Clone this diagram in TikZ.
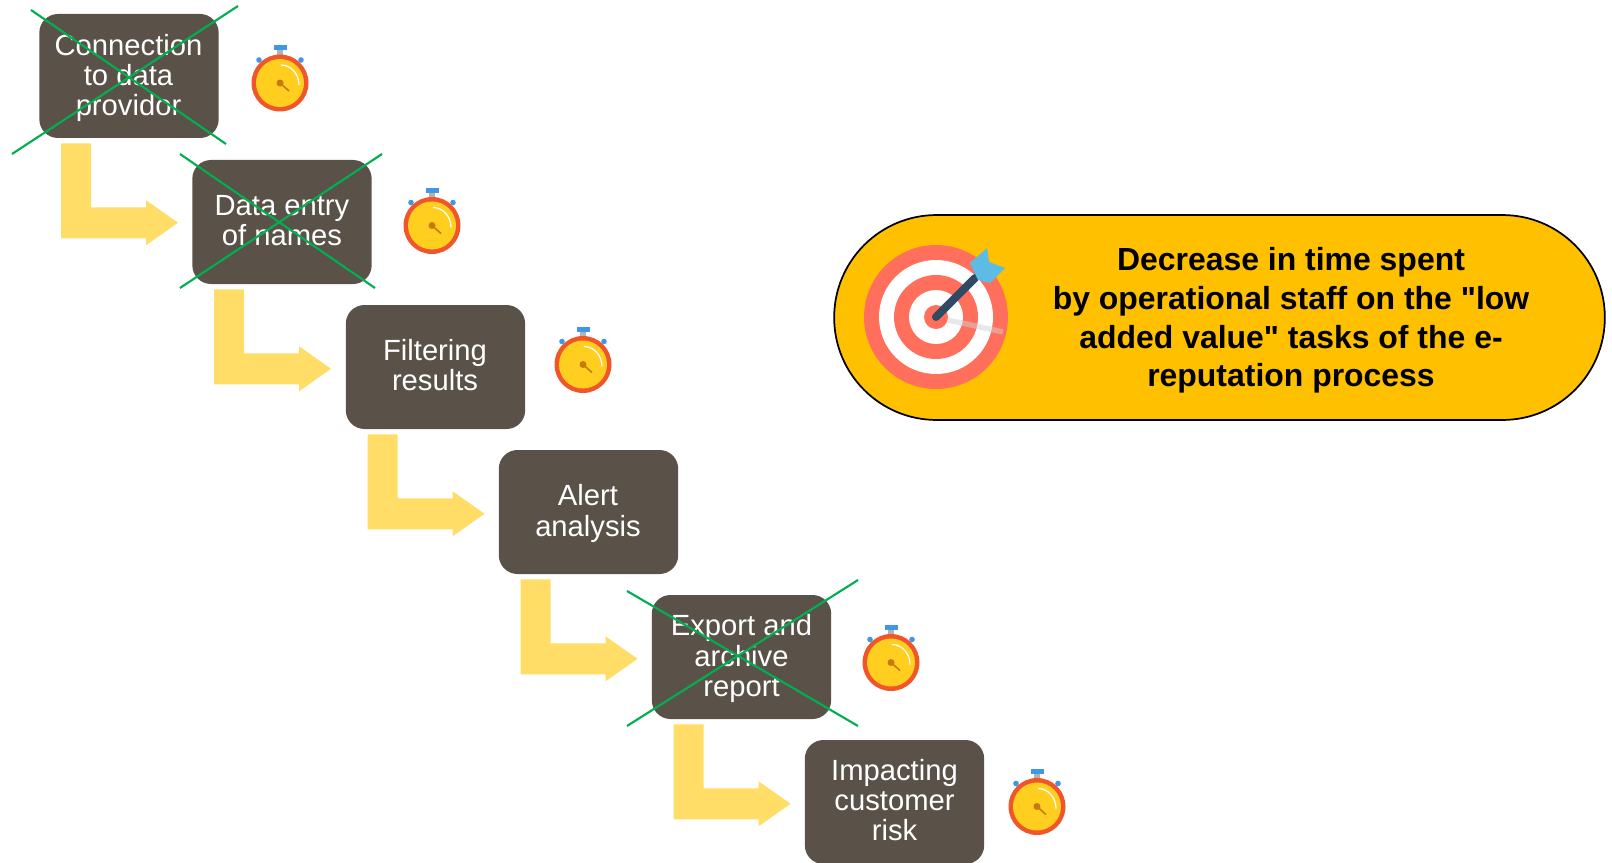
\documentclass[tikz,border=0pt]{standalone}
\usepackage{fontspec}
\newfontfamily\lsans{Liberation Sans}
\setmainfont{Liberation Sans}
\usetikzlibrary{calc}
\definecolor{boxc}{HTML}{5A5249}
\definecolor{arrowc}{HTML}{FFDD66}
\definecolor{crossc}{HTML}{00B050}
\definecolor{pillc}{HTML}{FFC000}
\definecolor{swred}{HTML}{F0562A}
\definecolor{swyel}{HTML}{FFCE1F}
\definecolor{swblue}{HTML}{3F97E8}
\definecolor{swhand}{HTML}{C77A10}
\definecolor{coral}{HTML}{FF6F5B}
\definecolor{dartc}{HTML}{2F4A62}
\definecolor{fletch}{HTML}{5CBCE6}
\tikzset{
  x=0.75pt,y=-0.75pt,
  stepbox/.style={rectangle,rounded corners=14pt,fill=boxc,minimum width=134.5pt,minimum height=93pt,inner sep=0pt},
  steptext/.style={text=white,inner sep=0pt,align=center,font=\fontsize{21.9}{22.6}\selectfont},
  crossline/.style={draw=crossc,line width=1.6pt},
  bentarrow/.style={fill=arrowc,draw=none},
  goalpill/.style={rectangle,draw=black,line width=1.3pt,fill=pillc,rounded corners=76.8pt,minimum width=578pt,minimum height=153.7pt,inner sep=0pt},
  goaltext/.style={align=center,inner sep=0pt,font=\lsans\fontsize{23.95}{29}\selectfont\bfseries},
  stopwatch/.pic={
    \fill[gray!60] (-3,-33) rectangle (3,-26);
    \fill[swblue] (-6.5,-38) rectangle (6.5,-32.5);
    \fill[swblue] (-21,-23) circle[radius=2.8];
    \fill[swblue] (21,-23) circle[radius=2.8];
    \fill[swred] (0,0) circle[radius=28.5];
    \fill[swyel] (0,0) circle[radius=24];
    \draw[white,line width=0.9pt] (1,-18) .. controls (11,-18) and (19,-9) .. (19,2);
    \draw[swhand,line width=1.2pt] (0,0) -- (9,8);
    \fill[swhand] (0,0) circle[radius=3.5];
  }
}
\newcommand{\bentfrom}[1]{%
  \fill[bentarrow] ($(#1.south west)+(22,5)$) -- ++(30,0) -- ++(0,64) -- ++(55,0) -- ++(0,-7) -- ++(32,22.5) -- ++(-32,22.5) -- ++(0,-7) -- ++(-85,0) -- cycle;}
\begin{document}
\begin{tikzpicture}
\useasboundingbox (0,0) rectangle (1612,863);
% step boxes
\node[stepbox] (b1) at (129,76) {};
\node[stepbox] (b2) at (282,222) {};
\node[stepbox] (b3) at (435.5,367) {};
\node[stepbox] (b4) at (588.5,512) {};
\node[stepbox] (b5) at (741.5,657) {};
\node[stepbox] (b6) at (894.5,802) {};
\node[steptext] (t1) at (128.5,78) {Connection\\to data\\providor};
\node[steptext] (t2) at (282,220.5) {Data entry\\of names};
\node[steptext] (t3) at (435,365) {Filtering\\results};
\node[steptext] (t4) at (588,513.5) {Alert\\analysis};
\node[steptext] (t5) at (741.5,658.5) {Export and\\archive\\report};
\node[steptext] (t6) at (894.5,800) {Impacting\\customer\\risk};
% bent arrows
\bentfrom{b1}
\bentfrom{b2}
\bentfrom{b3}
\bentfrom{b4}
\bentfrom{b5}
% crosses
\coordinate (c1a) at (31,10);   \coordinate (c1b) at (226,144);
\coordinate (c1c) at (12,154);  \coordinate (c1d) at (238,6);
\coordinate (c2a) at (180,154); \coordinate (c2b) at (375,288);
\coordinate (c2c) at (180,288); \coordinate (c2d) at (382,154);
\coordinate (c5a) at (627,591); \coordinate (c5b) at (858,726);
\coordinate (c5c) at (627,726); \coordinate (c5d) at (858,580);
\draw[crossline] (c1a) -- (c1b);
\draw[crossline] (c1c) -- (c1d);
\draw[crossline] (c2a) -- (c2b);
\draw[crossline] (c2c) -- (c2d);
\draw[crossline] (c5a) -- (c5b);
\draw[crossline] (c5c) -- (c5d);
% stopwatches
\pic at (280,83) {stopwatch};
\pic at (432,225.5) {stopwatch};
\pic at (583,364.5) {stopwatch};
\pic at (891,662.5) {stopwatch};
\pic at (1037,806.5) {stopwatch};
% goal
\node[goalpill] (pill) at (1219.5,317.5) {};
\fill[coral] (936,317) circle[radius=72];
\fill[white] (936,317) circle[radius=57];
\fill[coral] (936,317) circle[radius=42];
\fill[white] (936,317) circle[radius=27];
\fill[coral] (936,317) circle[radius=12];
\draw[gray!35,line width=4pt,opacity=.5] (948,320) -- (1003,332);
\draw[dartc,line width=6pt,line cap=round] (936,317) -- (975,278);
\fill[fletch] (970,263) -- (987,248) -- (989,262) -- (1005,268) -- (990,283) -- (978,280) -- cycle;
\node[goaltext] (goal) at (1291,320.5) {Decrease in time spent\\by operational staff on the "low\\added value" tasks of the e-\\reputation process};
\end{tikzpicture}
\end{document}
